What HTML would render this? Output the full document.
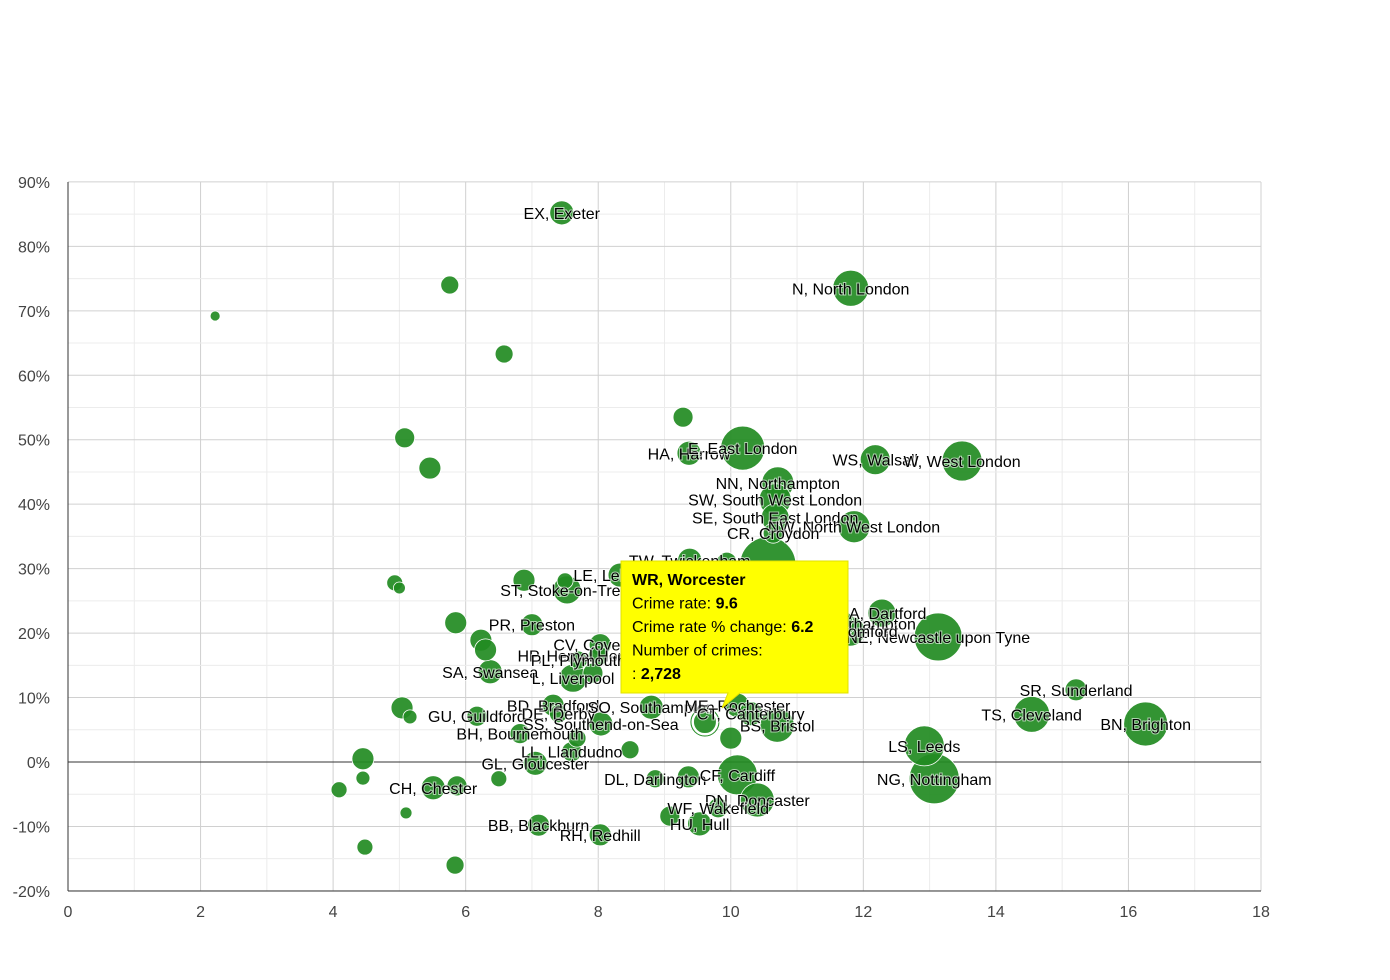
<!DOCTYPE html>
<html><head><meta charset="utf-8"><style>
body{margin:0;background:#fff;}
svg{display:block;font-family:"Liberation Sans",sans-serif;}
.lbl{font-size:16px;fill:#000;stroke:#fff;stroke-width:2px;paint-order:stroke;stroke-opacity:0.6}
</style></head><body>
<svg id="chart" width="1390" height="980" viewBox="0 0 1390 980"></svg>
<script>
const labels=["EX, Exeter","","","","N, North London","","","","HA, Harrow","E, East London","WS, Walsall","W, West London","NN, Northampton","SW, South West London","SE, South East London","NW, North West London","CR, Croydon","","TW, Twickenham","","LE, Leicester","","ST, Stoke-on-Trent","","","","PR, Preston","","","","CV, Coventry","HP, Hemel Hempstead","PL, Plymouth","SA, Swansea","L, Liverpool","","","BD, Bradford","","","GU, Guildford","DE, Derby","SO, Southampton","ME, Rochester","CT, Canterbury","WR, Worcester","BS, Bristol","SS, Southend-on-Sea","BH, Bournemouth","","","","","LL, Llandudno","GL, Gloucester","DL, Darlington","CF, Cardiff","","NG, Nottingham","LS, Leeds","TS, Cleveland","SR, Sunderland","BN, Brighton","NE, Newcastle upon Tyne","DA, Dartford","WV, Wolverhampton","RM, Romford","","","","CH, Chester","","","","","","BB, Blackburn","RH, Redhill","DN, Doncaster","WF, Wakefield","","HU, Hull"];
const crimeRate=[7.45,5.76,2.22,6.58,11.81,9.28,5.08,5.46,9.37,10.18,12.18,13.49,10.71,10.67,10.67,11.86,10.64,10.56,9.38,9.94,8.33,6.88,7.53,7.5,4.93,5.0,7.0,5.85,6.23,6.3,8.03,8.0,7.7,6.37,7.62,7.92,8.86,7.32,5.04,5.16,6.17,7.4,8.8,10.1,10.3,9.61,10.7,8.04,6.82,7.68,10.0,8.48,4.45,7.6,7.05,8.86,10.1,9.36,13.07,12.92,14.54,15.21,16.26,13.13,12.28,11.7,11.8,11.7,4.45,4.09,5.51,5.87,6.5,5.1,4.48,5.84,7.1,8.03,10.4,9.81,9.08,9.53];
const pctChange=[85.2,74.0,69.2,63.3,73.5,53.5,50.3,45.6,47.9,48.7,46.9,46.7,43.3,40.7,37.9,36.5,35.5,30.6,31.3,31.0,29.0,28.2,26.7,28.1,27.8,27.0,21.3,21.6,18.9,17.4,18.2,16.5,15.8,14.0,13.0,13.8,13.9,8.8,8.4,7.0,7.1,7.5,8.5,8.8,7.5,6.2,5.7,5.9,4.4,3.7,3.7,1.9,0.5,1.6,-0.2,-2.6,-2.0,-2.3,-2.6,2.5,7.4,11.2,5.9,19.4,23.1,21.5,20.3,22.0,-2.5,-4.3,-4.0,-3.7,-2.6,-7.9,-13.2,-16.0,-9.8,-11.3,-5.9,-7.1,-8.4,-9.6];
const crimes=[2722,1531,473,1531,6125,1890,1890,2287,2722,9149,4253,7561,4839,4839,3705,4839,1890,14820,2722,1890,2722,2287,3705,1210,1210,680,2287,2287,2287,2287,2287,1890,1531,2722,3705,1890,1210,2287,2287,926,1890,1531,2722,2722,2722,2722,5463,2722,1890,1531,2287,1531,2287,1890,2722,1531,7561,2287,11815,7561,6125,2287,9149,10888,3705,2722,4253,1531,926,1210,2722,1890,1210,680,1210,1531,2287,2287,5463,1890,1890,2722];
const xTicks=[0,2,4,6,8,10,12,14,16,18];
const yTicks=[-20,-10,0,10,20,30,40,50,60,70,80,90];
const NS="http://www.w3.org/2000/svg";
const svg=document.getElementById('chart');
const X=v=>68+v*(1261-68)/18;
const Y=v=>762-v*(891-182)/110;
const R=c=>0.23*Math.sqrt(c);
function mk(t,a,p){const e=document.createElementNS(NS,t);for(const k in a)e.setAttribute(k,a[k]);(p||svg).appendChild(e);return e;}
const grid=mk('g',{});


for(let v=0;v<=18;v+=1){const l=mk('line',{x1:X(v),x2:X(v),y1:182,y2:891,stroke:v%2?'#ececec':'#d0d0d0'},grid);}
for(let v=-20;v<=90;v+=5){mk('line',{x1:68,x2:1261,y1:Y(v),y2:Y(v),stroke:v%10?'#ececec':'#d0d0d0'},grid);}
xTicks.forEach(v=>{const t=mk('text',{x:X(v),y:917,'text-anchor':'middle','font-size':16,fill:'#444'});t.textContent=v;

});
yTicks.forEach(v=>{const t=mk('text',{x:50,y:Y(v)+6,'text-anchor':'end','font-size':16,fill:'#444'});t.textContent=v+'%';

});
const ax=mk('line',{x1:68,x2:68,y1:182,y2:891,stroke:'#333'});


const bx=mk('line',{x1:68,x2:1261,y1:891,y2:891,stroke:'#333'});


const zl=mk('line',{x1:68,x2:1261,y1:Y(0),y2:Y(0),stroke:'#333'});


const order=crimeRate.map((_,i)=>i).sort((a,b)=>crimes[b]-crimes[a]);
order.forEach(i=>{const isW=labels[i]==="WR, Worcester";
const c=mk('circle',{cx:X(crimeRate[i]),cy:Y(pctChange[i]),r:R(crimes[i]),fill:'rgba(34,139,34,0.92)',stroke:'#fff','stroke-width':isW?2:0.8});


if(isW){mk('circle',{cx:X(crimeRate[i]),cy:Y(pctChange[i]),r:R(crimes[i])+2,fill:'none',stroke:'#228b22','stroke-width':1});}});
labels.forEach((s,i)=>{if(!s||s==="WR, Worcester")return;const t=mk('text',{x:X(crimeRate[i]),y:Y(pctChange[i])+6,'text-anchor':'middle',class:'lbl'});t.textContent=s;

});
const tg=mk('g',{});


mk('path',{d:'M621,561 H848 V693 H740 L722,708 L728,693 H621 Z',fill:'#ffff00',stroke:'#e0e000'},tg);
const lines=[['WR, Worcester','',1],['Crime rate: ','9.6',0],['Crime rate % change: ','6.2',0],['Number of crimes:','',0],[': ','2,728',0]];
lines.forEach((l,k)=>{const t=mk('text',{x:632,y:585+k*23.5,'font-size':16,fill:'#000','font-weight':l[2]?'bold':'normal'},tg);t.textContent=l[0];
if(l[1]){const b=mk('tspan',{'font-weight':'bold'},t);b.textContent=l[1];}});
</script>
</body></html>
